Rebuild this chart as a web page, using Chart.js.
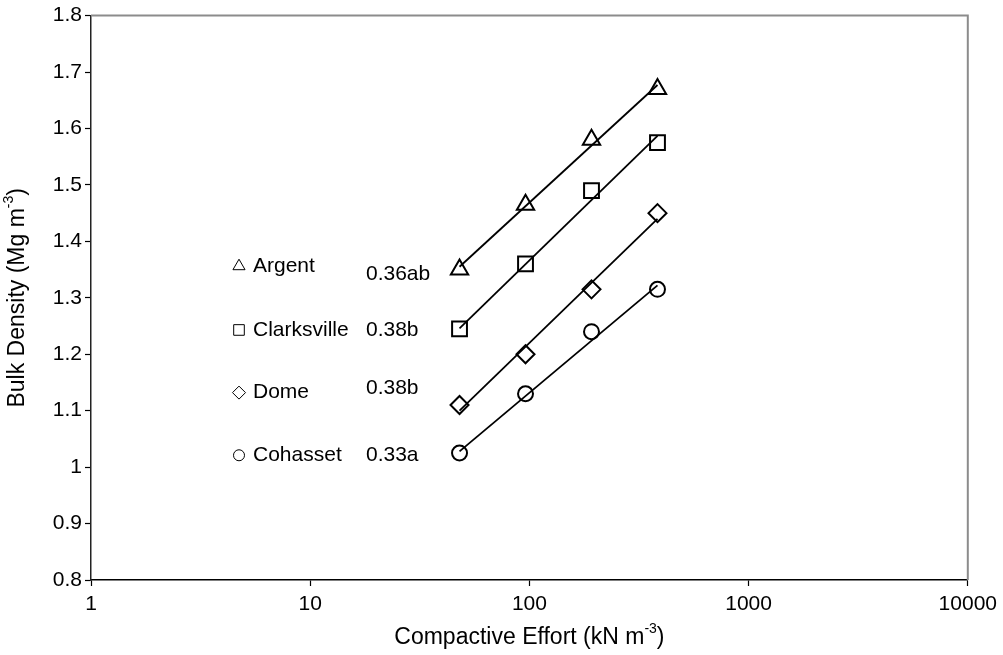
<!DOCTYPE html>
<html>
<head>
<meta charset="utf-8">
<script src="https://cdn.jsdelivr.net/npm/chart.js@4.4.1/dist/chart.umd.min.js"></script>
<style>
  html, body { margin: 0; padding: 0; background: #ffffff; }
  #wrap { width: 1003px; height: 655px; position: relative; }
</style>
</head>
<body>
<div id="wrap"><canvas id="chart"></canvas></div>
<script>
// Compactive effort applied (kN m^-3)
const effort = [48, 96, 192, 384];

// Bulk density (Mg m^-3) for each soil
const argent      = [1.35, 1.465, 1.58, 1.67];
const clarksville = [1.245, 1.36, 1.49, 1.575];
const dome        = [1.11, 1.20, 1.315, 1.45];
const cohasset    = [1.025, 1.13, 1.24, 1.315];

// Fitted trend lines: density at the lowest and the highest effort
const fitLow  = [1.355, 1.246, 1.10, 1.028];
const fitHigh = [1.677, 1.587, 1.44, 1.322];

const soils   = ['Argent', 'Clarksville', 'Dome', 'Cohasset'];
const slopes  = ['0.36ab', '0.38b', '0.38b', '0.33a'];

const xTicks = [1, 10, 100, 1000, 10000];
const yTicks = [0.8, 0.9, 1.0, 1.1, 1.2, 1.3, 1.4, 1.5, 1.6, 1.7, 1.8];

// ---- styling / layout ----
const FONT = '"Liberation Sans", Arial, sans-serif';
const FS = 21;       // tick and key text
const FS_TITLE = 23; // axis titles
const markerStyles = [
  { pointStyle: 'triangle', radius: 10 },
  { pointStyle: 'rect',     radius: 10.5 },
  { pointStyle: 'rectRot',  radius: 9 },
  { pointStyle: 'circle',   radius: 7.5 }
];
const keyMarkerRadius = [7, 7.5, 6.5, 5.5];
// vertical placement (in density units) of the key rows beside the curves
const keyRowY   = [1.356, 1.243, 1.132, 1.021];
const slopeRowY = [1.342, 1.243, 1.140, 1.021];

const series = [argent, clarksville, dome, cohasset];

const datasets = [];
series.forEach((vals, i) => {
  datasets.push({
    type: 'line',
    label: soils[i] + ' fit',
    data: [{ x: effort[0], y: fitLow[i] }, { x: effort[effort.length - 1], y: fitHigh[i] }],
    borderColor: '#000',
    borderWidth: 1.8,
    pointRadius: 0,
    fill: false,
    order: 2
  });
  datasets.push({
    type: 'scatter',
    label: soils[i],
    data: effort.map((x, k) => ({ x, y: vals[k] })),
    pointStyle: markerStyles[i].pointStyle,
    pointRadius: markerStyles[i].radius,
    pointHoverRadius: markerStyles[i].radius,
    pointBorderColor: '#000',
    pointBackgroundColor: 'rgba(0,0,0,0)',
    pointBorderWidth: 2,
    showLine: false,
    order: 1
  });
});

// Plot frame: grey top/right border
const framePlugin = {
  id: 'frame',
  beforeDatasetsDraw(chart) {
    const { ctx, chartArea: a } = chart;
    ctx.save();
    ctx.strokeStyle = '#8c8c8c';
    ctx.lineWidth = 2;
    ctx.beginPath();
    ctx.moveTo(a.left, a.top);
    ctx.lineTo(a.right, a.top);
    ctx.lineTo(a.right, a.bottom);
    ctx.stroke();
    ctx.restore();
  }
};

// Draw text with a raised exponent
function drawSupText(ctx, size, before, sup, after, x, y) {
  const small = Math.round(size * 0.62);
  ctx.font = size + 'px ' + FONT;
  const w1 = ctx.measureText(before).width;
  ctx.font = small + 'px ' + FONT;
  const w2 = ctx.measureText(sup).width;
  ctx.font = size + 'px ' + FONT;
  const w3 = ctx.measureText(after).width;
  let cx = x - (w1 + w2 + w3) / 2;
  ctx.textAlign = 'left';
  ctx.textBaseline = 'middle';
  ctx.fillText(before, cx, y);
  cx += w1;
  ctx.font = small + 'px ' + FONT;
  ctx.fillText(sup, cx, y - size * 0.38);
  cx += w2;
  ctx.font = size + 'px ' + FONT;
  ctx.fillText(after, cx, y);
}

const textPlugin = {
  id: 'texts',
  afterDraw(chart) {
    const { ctx, chartArea: a, scales } = chart;
    const ys = scales.y;
    ctx.save();
    ctx.fillStyle = '#000';

    // axis titles
    drawSupText(ctx, FS_TITLE, 'Compactive Effort (kN m', '-3', ')', (a.left + a.right) / 2, 638);
    ctx.save();
    ctx.translate(18, (a.top + a.bottom) / 2);
    ctx.rotate(-Math.PI / 2);
    drawSupText(ctx, FS_TITLE, 'Bulk Density (Mg m', '-3', ')', 0, 0);
    ctx.restore();

    // key rows with slope values
    soils.forEach((name, i) => {
      const yRow = ys.getPixelForValue(keyRowY[i]);
      ctx.strokeStyle = '#000';
      ctx.fillStyle = '#fff';
      Chart.helpers.drawPoint(ctx, {
        pointStyle: markerStyles[i].pointStyle,
        radius: keyMarkerRadius[i],
        borderWidth: 1.5,
        rotation: 0
      }, 239, yRow);
      ctx.fillStyle = '#000';
      ctx.font = FS + 'px ' + FONT;
      ctx.textAlign = 'left';
      ctx.textBaseline = 'middle';
      ctx.fillText(name, 253, yRow);
      ctx.fillText(slopes[i], 366, ys.getPixelForValue(slopeRowY[i]));
    });
    ctx.restore();
  }
};

new Chart(document.getElementById('chart'), {
  data: { datasets },
  options: {
    responsive: true,
    maintainAspectRatio: false,
    animation: false,
    layout: { padding: { left: 0, top: 15, right: 34, bottom: 0 } },
    plugins: {
      legend: { display: false },
      tooltip: { enabled: false },
      title: { display: false }
    },
    scales: {
      x: {
        type: 'logarithmic',
        min: 1,
        max: 10000,
        afterBuildTicks(scale) { scale.ticks = xTicks.map(v => ({ value: v })); },
        afterFit(scale) { scale.height = 75; },
        ticks: {
          autoSkip: false,
          maxRotation: 0,
          color: '#000',
          font: { family: FONT, size: FS },
          padding: 6,
          callback: v => String(v)
        },
        grid: { drawOnChartArea: false, drawTicks: true, tickLength: 6, color: '#000', tickWidth: 1.2 },
        border: { display: true, color: '#000', width: 1.5 }
      },
      y: {
        type: 'linear',
        min: 0.8,
        max: 1.8,
        afterBuildTicks(scale) { scale.ticks = yTicks.map(v => ({ value: v })); },
        afterFit(scale) { scale.width = 91; },
        ticks: {
          autoSkip: false,
          color: '#000',
          font: { family: FONT, size: FS },
          padding: 3,
          callback: v => String(Number(v.toFixed(1)))
        },
        grid: { drawOnChartArea: false, drawTicks: true, tickLength: 6, color: '#000', tickWidth: 1.2 },
        border: { display: true, color: '#222', width: 1.5 }
      }
    }
  },
  plugins: [framePlugin, textPlugin]
});
</script>
</body>
</html>
